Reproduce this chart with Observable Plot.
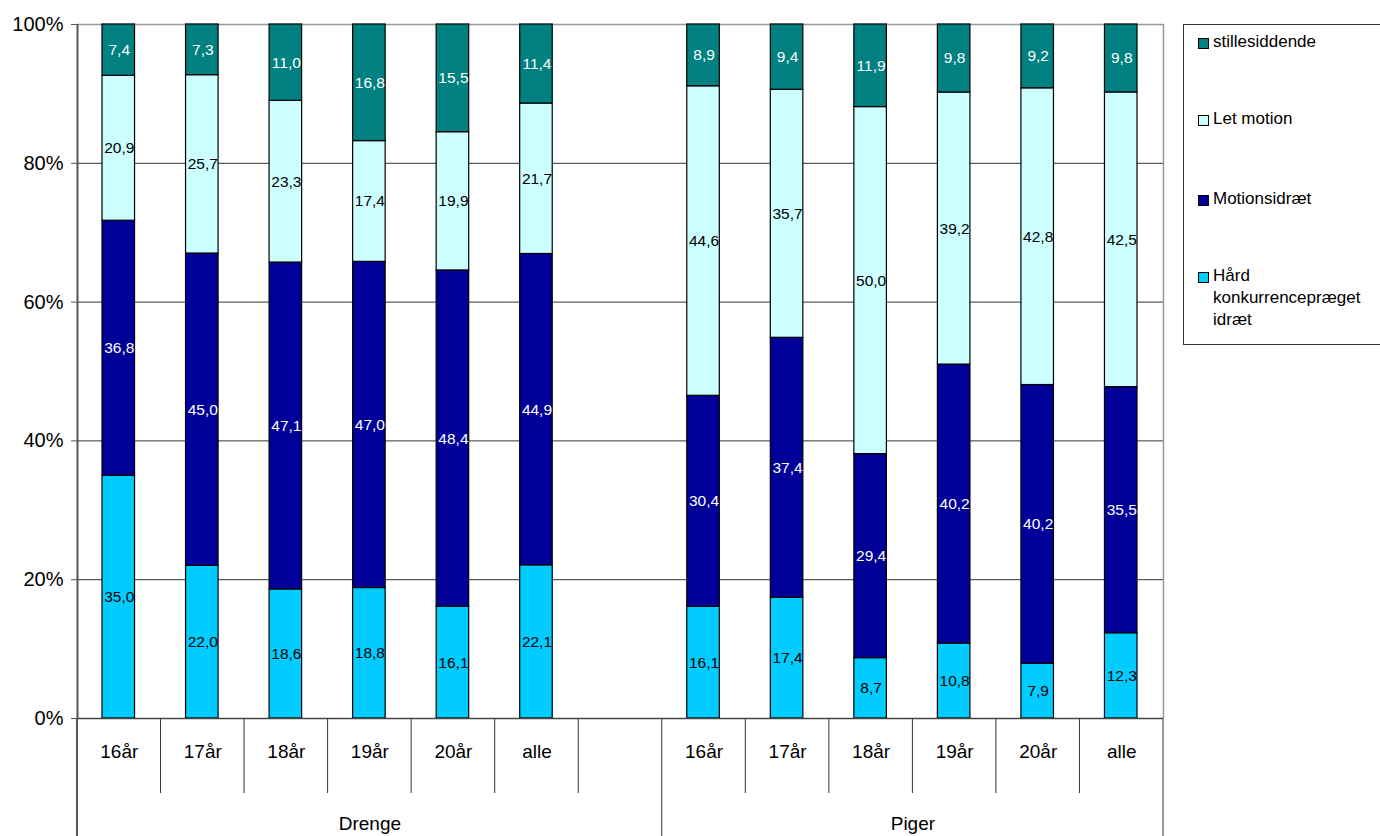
<!DOCTYPE html>
<html>
<head>
<meta charset="utf-8">
<script src="https://cdn.jsdelivr.net/npm/d3@7"></script>
<script src="https://cdn.jsdelivr.net/npm/@observablehq/plot@0.6"></script>
<style>
  body { margin: 0; background: #fff; font-family: "Liberation Sans", Arial, sans-serif; }
  #wrap { position: relative; width: 1380px; height: 836px; overflow: hidden; }
  #chart { position: absolute; left: 0; top: 0; }
  #legend { position: absolute; left: 1183px; top: 24px; width: 210px; height: 321px; border: 1px solid #333; box-sizing: border-box; font-size: 17px; color: #000; }
  .li { position: absolute; left: 14px; display: flex; align-items: flex-start; line-height: 22px; }
  .sw { width: 9px; height: 9px; border: 1px solid #000; margin-top: 7px; margin-right: 4px; flex: none; }
</style>
</head>
<body>
<div id="wrap">
  <div id="chart"></div>
  <div id="legend"></div>
</div>
<script>
// ---- data ----
const groups = ["Drenge", "Piger"];
const ages = ["16år", "17år", "18år", "19år", "20år", "alle"];
const series = ["Hård konkurrencepræget idræt", "Motionsidræt", "Let motion", "stillesiddende"];
const colors = ["#00CCFF", "#000099", "#CCFFFF", "#008080"];
const labelColors = ["#000", "#fff", "#000", "#fff"];
const legendOrder = ["stillesiddende", "Let motion", "Motionsidræt", "Hård konkurrencepræget idræt"];
const legendLabels = ["stillesiddende", "Let motion", "Motionsidræt", "Hård<br>konkurrencepræget<br>idræt"];

const drengeHard   = [35.0, 22.0, 18.6, 18.8, 16.1, 22.1];
const drengeMotion = [36.8, 45.0, 47.1, 47.0, 48.4, 44.9];
const drengeLet    = [20.9, 25.7, 23.3, 17.4, 19.9, 21.7];
const drengeStille = [7.4, 7.3, 11.0, 16.8, 15.5, 11.4];

const pigerHard    = [16.1, 17.4, 8.7, 10.8, 7.9, 12.3];
const pigerMotion  = [30.4, 37.4, 29.4, 40.2, 40.2, 35.5];
const pigerLet     = [44.6, 35.7, 50.0, 39.2, 42.8, 42.5];
const pigerStille  = [8.9, 9.4, 11.9, 9.8, 9.2, 9.8];

const yTicks = [0, 0.2, 0.4, 0.6, 0.8, 1];

// ---- build table (category slots: Drenge 0-5, gap 6, Piger 7-12) ----
const groupValues = {
  Drenge: [drengeHard, drengeMotion, drengeLet, drengeStille],
  Piger: [pigerHard, pigerMotion, pigerLet, pigerStille]
};
const groupStart = {Drenge: 0, Piger: 7};
const groupSpan = {Drenge: [0, 7], Piger: [7, 13]};
const rows = [];
const cats = [];
for (const g of groups) {
  ages.forEach((a, i) => {
    const slot = groupStart[g] + i;
    cats.push({slot, xm: slot + 0.5, age: a, group: g});
    const vals = groupValues[g].map(s => s[i]);
    const total = d3.sum(vals);
    let acc = 0;
    vals.forEach((v, k) => {
      const y1 = acc / total;
      acc += v;
      const y2 = acc / total;
      rows.push({slot, x1: slot, x2: slot + 1, xm: slot + 0.5, y1, y2, ym: (y1 + y2) / 2,
        series: series[k], value: v, label: v.toFixed(1).replace(".", ","), lc: labelColors[k]});
    });
  });
}
const shortSeps = [1, 2, 3, 4, 5, 6, 8, 9, 10, 11, 12];
const longSeps = [0, 7, 13];
const groupLabels = groups.map(g => ({group: g, xm: (groupSpan[g][0] + groupSpan[g][1]) / 2}));

const chart = Plot.plot({
  width: 1170,
  height: 836,
  marginLeft: 77,
  marginRight: 7,
  marginTop: 24,
  marginBottom: 118,
  style: {fontFamily: "'Liberation Sans', Arial, sans-serif", fontSize: "15px", background: "#fff", overflow: "visible"},
  x: {domain: [0, 13], axis: null},
  y: {domain: [0, 1], axis: null},
  color: {domain: series, range: colors},
  marks: [
    Plot.ruleY(yTicks.slice(1, 5), {stroke: "#333", strokeWidth: 1}),
    Plot.ruleX([13], {y1: 0, y2: 1, stroke: "#999", strokeWidth: 1.5}),
    Plot.ruleY([1], {stroke: "#999", strokeWidth: 1.5}),
    Plot.rect(rows, {x1: "x1", x2: "x2", y1: "y1", y2: "y2", fill: "series", stroke: "#000", strokeWidth: 1.2, insetLeft: 25, insetRight: 26}),
    Plot.text(rows, {x: "xm", y: "ym", text: "label", fill: d => d.lc, fontSize: 15.5}),
    // y axis
    Plot.axisY(yTicks, {tickFormat: d => Math.round(d * 100) + "%", tickSize: 6, tickPadding: 8, fontSize: 20, stroke: "#555", color: "#000", fill: "#000"}),
    Plot.ruleX([0], {y1: 0, y2: 1, stroke: "#555", strokeWidth: 2}),
    Plot.ruleY([0], {stroke: "#444", strokeWidth: 1.5}),
    // category labels
    Plot.text(cats, {x: "xm", y: 0, text: "age", dy: 33, fontSize: 19, fill: "#000"}),
    Plot.text(groupLabels, {x: "xm", y: 0, text: "group", dy: 105, fontSize: 19, fill: "#000"})
  ]
});
document.getElementById("chart").appendChild(chart);

// separator lines below the axis, positioned through the chart's own scales
const sx = chart.scale("x"), sy = chart.scale("y");
const svg = d3.select(chart);
const y0 = sy.apply(0);
svg.append("g").selectAll("line").data(shortSeps).join("line")
  .attr("x1", d => sx.apply(d)).attr("x2", d => sx.apply(d))
  .attr("y1", y0).attr("y2", y0 + 75).attr("stroke", "#333").attr("stroke-width", 1);
svg.append("g").selectAll("line").data(longSeps).join("line")
  .attr("x1", d => sx.apply(d)).attr("x2", d => sx.apply(d))
  .attr("y1", y0).attr("y2", 836).attr("stroke", d => d === 0 ? "#555" : "#333").attr("stroke-width", d => d === 0 ? 2 : 1);

// legend
const leg = document.getElementById("legend");
const tops = [6, 83, 163, 240];
legendOrder.forEach((s, i) => {
  const el = document.createElement("div");
  el.className = "li";
  el.style.top = tops[i] + "px";
  el.innerHTML = `<div class="sw" style="background:${colors[series.indexOf(s)]}"></div><div>${legendLabels[i]}</div>`;
  leg.appendChild(el);
});
</script>
</body>
</html>
